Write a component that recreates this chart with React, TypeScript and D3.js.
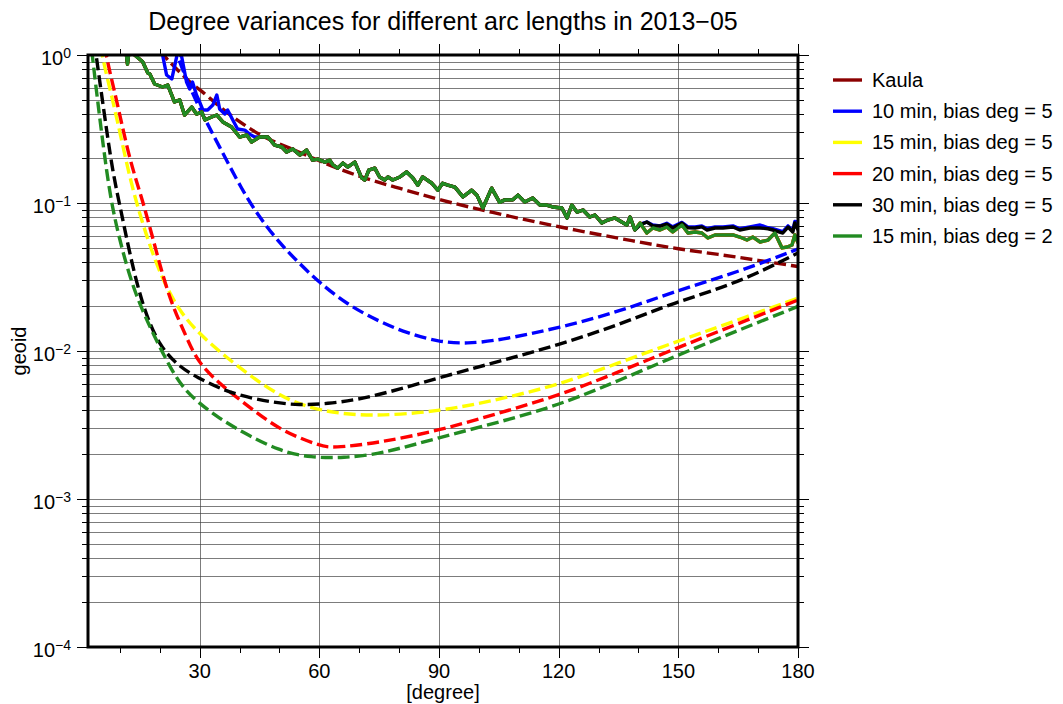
import React, { useEffect, useRef } from 'react'
import * as d3 from 'd3'

const chartTitle = 'Degree variances for different arc lengths in 2013\u221205'
const xLabel = '[degree]'
const yLabel = 'geoid'
const xMajorTicks = [30, 60, 90, 120, 150, 180]
const xMinorTicks = [10, 20, 40, 50, 70, 80, 100, 110, 130, 140, 160, 170]
const yExponents = [0, -1, -2, -3, -4]

const seriesLabels = [
    'Kaula',
    '10 min, bias deg = 5',
    '15 min, bias deg = 5',
    '20 min, bias deg = 5',
    '30 min, bias deg = 5',
    '15 min, bias deg = 2',
]
const seriesColors = ['#8b0000', '#0000ff', '#ffff00', '#ff0000', '#000000', '#228b22']

// Kaula rule (dashed)
const kaulaDeg = [18, 20.7, 23.7, 28.2, 30, 35, 40, 45, 50, 55, 60, 70, 80, 90, 102.7, 120, 140, 150, 160, 170, 180]
const kaulaVal = [1.35, 1.0, 0.83, 0.627, 0.589, 0.445, 0.353, 0.288, 0.25, 0.221, 0.192, 0.15, 0.126, 0.105, 0.087, 0.0688, 0.0545, 0.0489, 0.045, 0.041, 0.0372]

// noisy degree variances (the green curve; the other solid curves sit underneath it)
const solidDeg = [2, 5, 8, 10, 11.3, 11.9, 12.6, 13.7, 15.7, 17, 17.5, 18.7, 20.7, 22, 23.7, 25, 26.2, 28, 29.2, 30.5,
    31.3, 33, 34.3, 35.8, 38, 40, 41.8, 43, 45, 47.1, 48.8, 50.6, 51.8, 53.3, 55.1, 56.8, 58.3, 59.6, 61.4, 62.6,
    63.4, 64.6, 65.9, 67.1, 68.9, 70.6, 71.4, 72.4, 73.9, 75.1, 76.4, 77.2, 78.4, 80.2, 81.9, 83.4, 84.7, 85.9, 88.2, 89.7,
    90.9, 92.2, 94, 96, 98.2, 99.5, 101, 103.2, 105.2, 106.5, 108.5, 109.8, 111.5, 113.5, 115.3, 117, 118.5, 120.8, 122.1, 123.3,
    124.6, 126.1, 127.8, 129.1, 130.8, 132.3, 134.1, 135.8, 137.1, 137.9, 139.1, 140.4, 142.1, 143.6, 145.4, 147.1, 148.6, 150.9, 152.4, 154.2,
    155.9, 157.4, 159.2, 161.2, 163.7, 165.4, 167.2, 168.7, 170.5, 172.5, 174.2, 176, 177.3, 178.5, 179.2, 180]
const greenSolid = [4.0, 2.6, 1.7, 1.35, 1.2, 0.87, 1.25, 1.0, 0.9, 0.756, 0.744, 0.637, 0.608, 0.627, 0.481, 0.497, 0.393, 0.445, 0.399, 0.412,
    0.364, 0.381, 0.393, 0.353, 0.326, 0.279, 0.288, 0.258, 0.279, 0.279, 0.246, 0.239, 0.221, 0.232, 0.211, 0.228, 0.195, 0.198, 0.189, 0.195,
    0.181, 0.172, 0.186, 0.175, 0.189, 0.148, 0.143, 0.167, 0.172, 0.15, 0.143, 0.15, 0.143, 0.15, 0.162, 0.148, 0.132, 0.15, 0.136, 0.122,
    0.136, 0.132, 0.128, 0.11, 0.122, 0.113, 0.0925, 0.126, 0.101, 0.105, 0.105, 0.113, 0.1016, 0.108, 0.0969, 0.0969, 0.094, 0.0925, 0.0792, 0.0969,
    0.0869, 0.0897, 0.0804, 0.083, 0.0733, 0.0767, 0.0792, 0.0744, 0.071, 0.0804, 0.0657, 0.0733, 0.0627, 0.0678, 0.0657, 0.0688, 0.0637, 0.071, 0.0627, 0.0637,
    0.0627, 0.058, 0.0608, 0.0608, 0.0608, 0.0589, 0.0562, 0.0589, 0.0545, 0.0562, 0.0627, 0.0497, 0.0504, 0.052, 0.0608, 0.0537]

// 10 min curve, low degrees where it splits off
const blueEarlyDeg = [20, 20.7, 21.7, 23, 24.5, 25.5, 26.7, 27.5, 28.2, 29.2, 30, 30.8, 32, 33.3, 34.3, 35, 36.3, 37, 38.3, 39.5, 41.3, 42.5, 43.8]
const blueEarlyVal = [1.3, 1.0, 0.733, 0.688, 1.05, 0.969, 0.657, 0.589, 0.657, 0.537, 0.481, 0.425, 0.425, 0.459, 0.537, 0.432, 0.399, 0.425, 0.364, 0.316, 0.311, 0.292, 0.279]

// high degree tails of the 10 min and 30 min curves
const tailDeg = [140.4, 142.1, 143.6, 145.4, 147.1, 148.6, 150.9, 152.4, 154.2, 155.9, 157.2, 159.2, 161.2, 163.7, 165.4, 167.9, 170.5, 172.5, 173.7, 176.2, 177.5, 178.7, 179.2, 180]
const blackTail = [0.071, 0.0744, 0.07, 0.0699, 0.072, 0.0678, 0.0733, 0.068, 0.0678, 0.069, 0.0657, 0.0678, 0.0678, 0.0688, 0.0657, 0.0678, 0.0678, 0.067, 0.0657, 0.0627, 0.0688, 0.0637, 0.0733, 0.0657]
const blueTail = [0.072, 0.0744, 0.071, 0.07, 0.073, 0.069, 0.074, 0.069, 0.069, 0.07, 0.067, 0.069, 0.069, 0.07, 0.067, 0.069, 0.071, 0.068, 0.067, 0.064, 0.07, 0.065, 0.075, 0.0744]

// smooth (dashed) curves
const blueDashDeg = [22, 26, 30, 35, 40.8, 45, 50, 55, 60, 67, 75, 82, 90, 97, 105, 120, 135, 148.6, 165, 180]
const blueDashVal = [1.5, 0.75, 0.43, 0.239, 0.12, 0.08, 0.0537, 0.039, 0.029, 0.0206, 0.0158, 0.0132, 0.0115, 0.0112, 0.0118, 0.0143, 0.0184, 0.025, 0.0342, 0.0489]

const yellowDashDeg = [4.5, 5.7, 8.2, 10.4, 13.2, 16.7, 20.7, 25, 29.5, 35, 40, 50, 60, 73, 90, 105, 120, 135, 150, 160, 180]
const yellowDashVal = [1.5, 0.925, 0.497, 0.267, 0.122, 0.059, 0.03, 0.0185, 0.0134, 0.0099, 0.0077, 0.0049, 0.0039, 0.0036, 0.0039, 0.0047, 0.0059, 0.0083, 0.0117, 0.0145, 0.0228]

const redDashDeg = [5.5, 6.7, 9.2, 12.4, 15.7, 19.2, 22.5, 26.7, 29.5, 35, 40, 50, 60, 63, 75, 90, 105, 120, 135, 150, 180]
const redDashVal = [1.5, 0.925, 0.497, 0.195, 0.105, 0.046, 0.0221, 0.0124, 0.0084, 0.006, 0.0047, 0.0029, 0.0023, 0.0022, 0.0024, 0.0029, 0.0038, 0.005, 0.0072, 0.0106, 0.0221]

const blackDashDeg = [3, 4.2, 6.2, 8.2, 10.4, 12.4, 15.7, 20, 25, 29.5, 35, 40, 48, 55, 62, 70, 80, 90, 105, 120, 135, 148.6, 165, 180]
const blackDashVal = [1.6, 0.925, 0.381, 0.16, 0.0856, 0.046, 0.0198, 0.0106, 0.0078, 0.0066, 0.0056, 0.005, 0.0045, 0.0043, 0.0044, 0.0047, 0.0055, 0.0066, 0.0085, 0.011, 0.015, 0.0211, 0.0288, 0.046]

const greenDashDeg = [2, 3.2, 4.9, 6.7, 8.2, 10.4, 13.7, 18.2, 23.2, 26, 29.5, 35, 40, 50, 58, 66, 75, 90, 105, 120, 135, 150, 165, 180]
const greenDashVal = [1.8, 0.925, 0.381, 0.16, 0.09, 0.05, 0.0246, 0.0132, 0.0072, 0.0056, 0.0045, 0.0035, 0.0029, 0.0021, 0.0019, 0.0019, 0.002, 0.0026, 0.0033, 0.0043, 0.0063, 0.0094, 0.0138, 0.02]

const zip = (xs, ys) => xs.map((d, i) => ({ deg: d, val: ys[i] }))

function DegreeVariances() {
    const ref = useRef(null)
    const width = 1063
    const height = 704
    const plot = { left: 88, right: 798, top: 55, bottom: 647 }
    const font = '"Liberation Sans", Arial, Helvetica, sans-serif'

    useEffect(() => {
        const svg = d3.select(ref.current)
        svg.selectAll('*').remove()

        const x = d3.scaleLinear().domain([2, 180]).range([plot.left, plot.right])
        const y = d3.scaleLog().domain([1e-4, 1]).range([plot.bottom, plot.top])

        svg.append('rect').attr('width', width).attr('height', height).attr('fill', '#fff')

        svg.append('defs').append('clipPath').attr('id', 'plotClip')
            .append('rect')
            .attr('x', plot.left).attr('y', plot.top)
            .attr('width', plot.right - plot.left).attr('height', plot.bottom - plot.top)

        // grid
        const grid = svg.append('g').attr('stroke', '#444').attr('stroke-width', 0.7)
        const minorY = []
        yExponents.forEach(e => {
            if (e === 0) return
            for (let m = 1; m <= 9; m++) minorY.push(m * Math.pow(10, e))
        })
        grid.selectAll('line.h').data(minorY.concat([1])).join('line')
            .attr('x1', plot.left).attr('x2', plot.right)
            .attr('y1', d => Math.round(y(d)) + 0.5).attr('y2', d => Math.round(y(d)) + 0.5)
        grid.selectAll('line.v').data(xMajorTicks.slice(0, -1)).join('line')
            .attr('y1', plot.top).attr('y2', plot.bottom)
            .attr('x1', d => Math.round(x(d)) + 0.5).attr('x2', d => Math.round(x(d)) + 0.5)

        // curves
        const line = d3.line().x(d => x(d.deg)).y(d => y(d.val))
        const smooth = d3.line().x(d => x(d.deg)).y(d => y(d.val)).curve(d3.curveBasis)
        const curves = svg.append('g').attr('clip-path', 'url(#plotClip)').attr('fill', 'none')
            .attr('stroke-width', 3.4).attr('stroke-linejoin', 'round')

        const green = zip(solidDeg, greenSolid)
        const blueSolid = zip(blueEarlyDeg, blueEarlyVal)
            .concat(green.filter(p => p.deg >= 45 && p.deg < 140))
            .concat(zip(tailDeg, blueTail))
        const blackSolid = green.filter(p => p.deg < 140).concat(zip(tailDeg, blackTail))

        const dash = '12,5'
        curves.append('path').attr('d', smooth(zip(kaulaDeg, kaulaVal))).attr('stroke', seriesColors[0]).attr('stroke-dasharray', dash)

        const layers = [
            { solid: blueSolid, dashed: zip(blueDashDeg, blueDashVal), color: seriesColors[1] },
            { solid: green, dashed: zip(yellowDashDeg, yellowDashVal), color: seriesColors[2] },
            { solid: green, dashed: zip(redDashDeg, redDashVal), color: seriesColors[3] },
            { solid: blackSolid, dashed: zip(blackDashDeg, blackDashVal), color: seriesColors[4] },
            { solid: green, dashed: zip(greenDashDeg, greenDashVal), color: seriesColors[5] },
        ]
        layers.forEach(l => {
            curves.append('path').attr('d', line(l.solid)).attr('stroke', l.color)
            curves.append('path').attr('d', smooth(l.dashed)).attr('stroke', l.color).attr('stroke-dasharray', dash)
        })

        // ticks
        const ticks = svg.append('g').attr('stroke', '#000').attr('stroke-width', 1)
        xMajorTicks.concat(xMinorTicks).forEach(t => {
            const len = xMajorTicks.includes(t) ? 11 : 6
            const px = Math.round(x(t)) + 0.5
            ticks.append('line').attr('x1', px).attr('x2', px).attr('y1', plot.bottom).attr('y2', plot.bottom + len)
            ticks.append('line').attr('x1', px).attr('x2', px).attr('y1', plot.top).attr('y2', plot.top - len)
        })
        minorY.concat([1]).forEach(v => {
            const isMajor = Math.abs(Math.log10(v) - Math.round(Math.log10(v))) < 1e-9
            const len = isMajor ? 11 : 6
            const py = Math.round(y(v)) + 0.5
            ticks.append('line').attr('x1', plot.left).attr('x2', plot.left - len).attr('y1', py).attr('y2', py)
            ticks.append('line').attr('x1', plot.right).attr('x2', plot.right + len).attr('y1', py).attr('y2', py)
        })

        // frame
        svg.append('rect')
            .attr('x', plot.left).attr('y', plot.top)
            .attr('width', plot.right - plot.left).attr('height', plot.bottom - plot.top)
            .attr('fill', 'none').attr('stroke', '#000').attr('stroke-width', 3)

        // labels
        const labels = svg.append('g').attr('font-family', font).attr('fill', '#000')
        xMajorTicks.forEach(t => {
            labels.append('text').attr('x', x(t)).attr('y', 678).attr('text-anchor', 'middle')
                .attr('font-size', 20).text(t)
        })
        yExponents.forEach(e => {
            const txt = labels.append('text').attr('x', 71).attr('y', y(Math.pow(10, e)) + 9.5)
                .attr('text-anchor', 'end').attr('font-size', 20)
            txt.append('tspan').text('10')
            txt.append('tspan').attr('dy', -7).attr('font-size', 14).text(e === 0 ? '0' : '\u2212' + (-e))
        })
        labels.append('text').attr('x', (plot.left + plot.right) / 2).attr('y', 699)
            .attr('text-anchor', 'middle').attr('font-size', 20).text(xLabel)
        labels.append('text').attr('transform', `translate(26,${(plot.top + plot.bottom) / 2}) rotate(-90)`)
            .attr('text-anchor', 'middle').attr('font-size', 20).text(yLabel)
        labels.append('text').attr('x', (plot.left + plot.right) / 2).attr('y', 30)
            .attr('text-anchor', 'middle').attr('font-size', 25).text(chartTitle)

        // legend
        const legend = svg.append('g').attr('font-family', font)
        seriesLabels.forEach((label, i) => {
            const ly = 80 + i * 31.2
            legend.append('line').attr('x1', 833).attr('x2', 862).attr('y1', ly).attr('y2', ly)
                .attr('stroke', seriesColors[i]).attr('stroke-width', 3.4)
            legend.append('text').attr('x', 872).attr('y', ly + 7).attr('font-size', 20).text(label)
        })
    }, [])

    return <svg ref={ref} width={width} height={height} style={{ display: 'block' }}></svg>
}

export default function App() {
    useEffect(() => {
        document.body.style.margin = '0'
    }, [])
    return <DegreeVariances />
}
